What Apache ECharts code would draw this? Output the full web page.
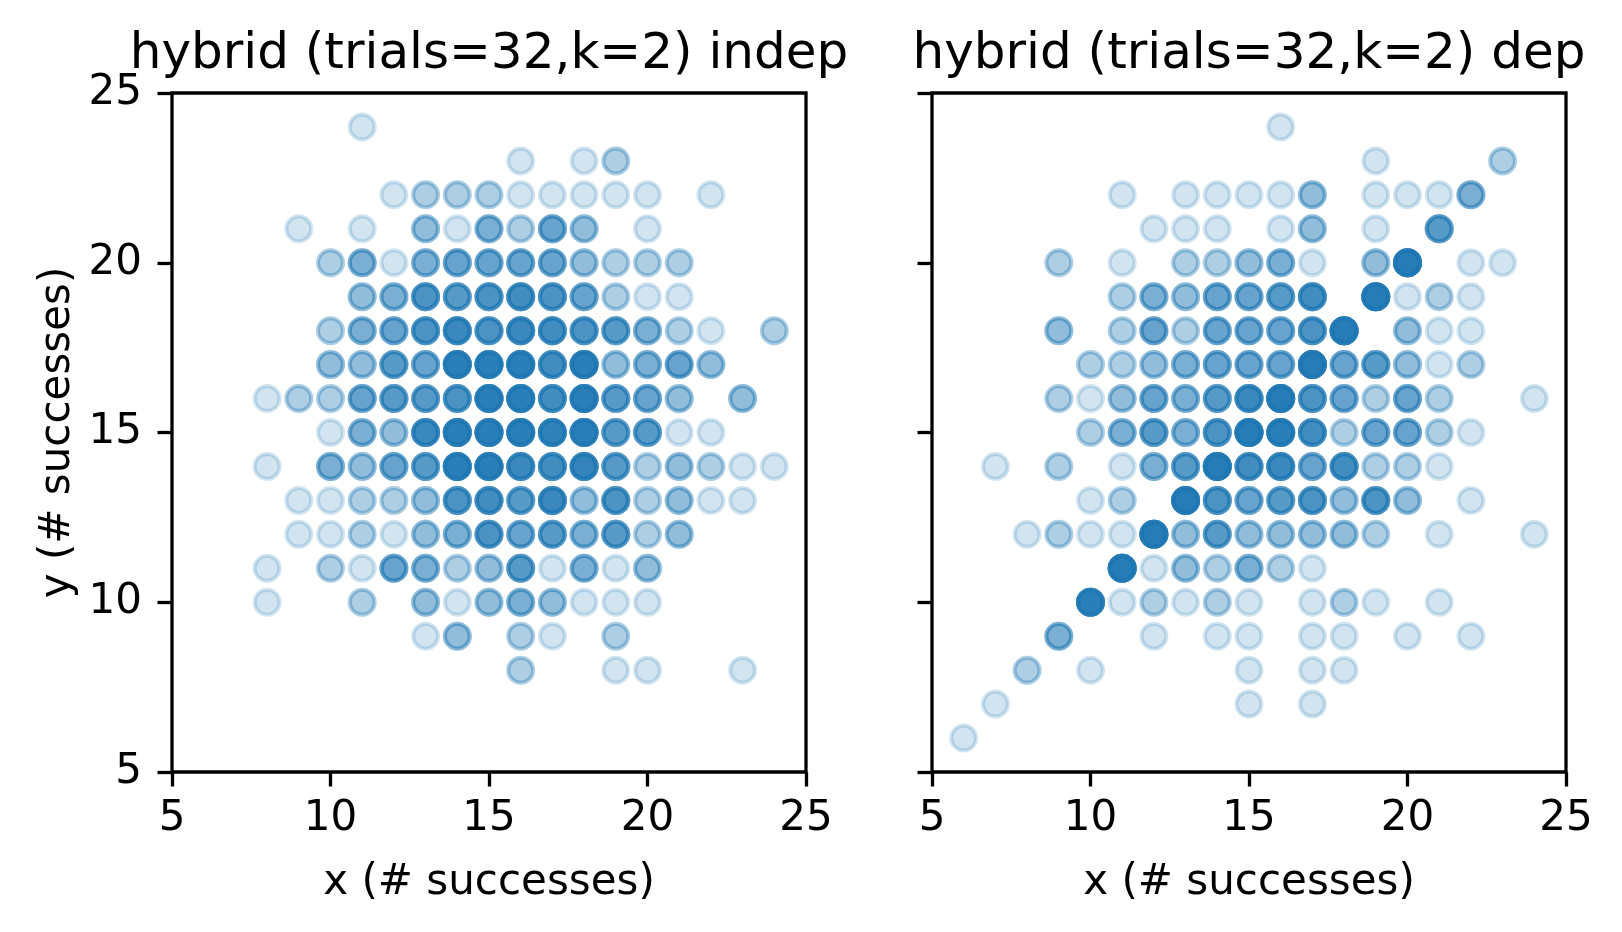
<!DOCTYPE html>
<html lang="en">
<head>
    <meta charset="UTF-8">
    <title>hybrid scatter</title>
    <script src="https://cdn.jsdelivr.net/npm/echarts@6/dist/echarts.min.js"></script>
    <style>
        html, body { margin: 0; padding: 0; background: #fff; }
        #chart { width: 1622px; height: 932px; }
    </style>
</head>
<body>
<div id="chart"></div>
<script type="text/javascript">
    // [x, y, count] per cell
    var indepCells = [
        [11, 24, 1],
        [16, 23, 1], [18, 23, 1], [19, 23, 2],
        [12, 22, 1], [13, 22, 2], [14, 22, 2], [15, 22, 2], [16, 22, 1], [17, 22, 1], [18, 22, 1], [19, 22, 1], [20, 22, 1], [22, 22, 1],
        [9, 21, 1], [11, 21, 1], [13, 21, 3], [14, 21, 1], [15, 21, 4], [16, 21, 2], [17, 21, 5], [18, 21, 3], [20, 21, 1],
        [10, 20, 2], [11, 20, 4], [12, 20, 1], [13, 20, 4], [14, 20, 5], [15, 20, 5], [16, 20, 5], [17, 20, 5], [18, 20, 3], [19, 20, 2], [20, 20, 2], [21, 20, 2],
        [11, 19, 3], [12, 19, 4], [13, 19, 7], [14, 19, 6], [15, 19, 7], [16, 19, 8], [17, 19, 7], [18, 19, 5], [19, 19, 2], [20, 19, 1], [21, 19, 1],
        [10, 18, 2], [11, 18, 4], [12, 18, 5], [13, 18, 7], [14, 18, 9], [15, 18, 7], [16, 18, 9], [17, 18, 8], [18, 18, 7], [19, 18, 6], [20, 18, 4], [21, 18, 2], [22, 18, 1], [24, 18, 2],
        [10, 17, 3], [11, 17, 3], [12, 17, 6], [13, 17, 5], [14, 17, 12], [15, 17, 12], [16, 17, 12], [17, 17, 8], [18, 17, 12], [19, 17, 3], [20, 17, 4], [21, 17, 5], [22, 17, 3],
        [8, 16, 1], [9, 16, 2], [10, 16, 2], [11, 16, 5], [12, 16, 6], [13, 16, 6], [14, 16, 7], [15, 16, 12], [16, 16, 12], [17, 16, 8], [18, 16, 12], [19, 16, 6], [20, 16, 5], [21, 16, 3], [23, 16, 3],
        [10, 15, 1], [11, 15, 4], [12, 15, 3], [13, 15, 9], [14, 15, 12], [15, 15, 12], [16, 15, 12], [17, 15, 11], [18, 15, 12], [19, 15, 6], [20, 15, 6], [21, 15, 1], [22, 15, 1],
        [8, 14, 1], [10, 14, 4], [11, 14, 3], [12, 14, 5], [13, 14, 6], [14, 14, 12], [15, 14, 12], [16, 14, 9], [17, 14, 8], [18, 14, 10], [19, 14, 6], [20, 14, 2], [21, 14, 3], [22, 14, 2], [23, 14, 1], [24, 14, 1],
        [9, 13, 1], [10, 13, 1], [11, 13, 2], [12, 13, 2], [13, 13, 3], [14, 13, 7], [15, 13, 8], [16, 13, 6], [17, 13, 9], [18, 13, 3], [19, 13, 7], [20, 13, 2], [21, 13, 3], [22, 13, 1], [23, 13, 1],
        [9, 12, 1], [10, 12, 1], [11, 12, 2], [12, 12, 1], [13, 12, 3], [14, 12, 4], [15, 12, 7], [16, 12, 5], [17, 12, 6], [18, 12, 4], [19, 12, 6], [20, 12, 2], [21, 12, 3],
        [8, 11, 1], [10, 11, 2], [11, 11, 1], [12, 11, 5], [13, 11, 4], [14, 11, 2], [15, 11, 3], [16, 11, 6], [17, 11, 1], [18, 11, 4], [19, 11, 1], [20, 11, 3],
        [8, 10, 1], [11, 10, 2], [13, 10, 3], [14, 10, 1], [15, 10, 3], [16, 10, 4], [17, 10, 3], [18, 10, 1], [19, 10, 1], [20, 10, 1],
        [13, 9, 1], [14, 9, 3], [16, 9, 2], [17, 9, 1], [19, 9, 2],
        [16, 8, 2], [19, 8, 1], [20, 8, 1], [23, 8, 1]
    ];

    var depCells = [
        [16, 24, 1],
        [19, 23, 1], [23, 23, 2],
        [11, 22, 1], [13, 22, 1], [14, 22, 1], [15, 22, 1], [16, 22, 1], [17, 22, 3], [19, 22, 1], [20, 22, 1], [21, 22, 1], [22, 22, 4],
        [12, 21, 1], [13, 21, 1], [14, 21, 1], [16, 21, 1], [17, 21, 3], [19, 21, 1], [21, 21, 6],
        [9, 20, 2], [11, 20, 1], [13, 20, 2], [14, 20, 2], [15, 20, 3], [16, 20, 4], [17, 20, 1], [19, 20, 3], [20, 20, 14], [22, 20, 1], [23, 20, 1],
        [11, 19, 2], [12, 19, 4], [13, 19, 3], [14, 19, 5], [15, 19, 5], [16, 19, 6], [17, 19, 8], [19, 19, 14], [20, 19, 1], [21, 19, 2], [22, 19, 1],
        [9, 18, 3], [11, 18, 2], [12, 18, 5], [13, 18, 2], [14, 18, 5], [15, 18, 5], [16, 18, 5], [17, 18, 7], [18, 18, 14], [20, 18, 3], [21, 18, 1], [22, 18, 1],
        [10, 17, 2], [11, 17, 2], [12, 17, 3], [13, 17, 4], [14, 17, 5], [15, 17, 5], [16, 17, 5], [17, 17, 14], [18, 17, 5], [19, 17, 6], [20, 17, 3], [21, 17, 1], [22, 17, 2],
        [9, 16, 2], [10, 16, 1], [11, 16, 3], [12, 16, 5], [13, 16, 4], [14, 16, 6], [15, 16, 9], [16, 16, 14], [17, 16, 7], [18, 16, 5], [19, 16, 2], [20, 16, 5], [21, 16, 2], [24, 16, 1],
        [10, 15, 2], [11, 15, 4], [12, 15, 6], [13, 15, 4], [14, 15, 7], [15, 15, 14], [16, 15, 12], [17, 15, 8], [18, 15, 2], [19, 15, 5], [20, 15, 5], [21, 15, 2], [22, 15, 1],
        [7, 14, 1], [9, 14, 2], [11, 14, 1], [12, 14, 4], [13, 14, 6], [14, 14, 14], [15, 14, 8], [16, 14, 9], [17, 14, 5], [18, 14, 8], [19, 14, 2], [20, 14, 2], [21, 14, 1],
        [10, 13, 1], [11, 13, 2], [13, 13, 14], [14, 13, 7], [15, 13, 5], [16, 13, 6], [17, 13, 7], [18, 13, 3], [19, 13, 7], [20, 13, 3], [22, 13, 1],
        [8, 12, 1], [9, 12, 2], [10, 12, 1], [11, 12, 1], [12, 12, 14], [13, 12, 3], [14, 12, 6], [15, 12, 3], [16, 12, 3], [17, 12, 3], [18, 12, 3], [19, 12, 2], [21, 12, 1], [24, 12, 1],
        [11, 11, 14], [12, 11, 1], [13, 11, 3], [14, 11, 2], [15, 11, 4], [16, 11, 2], [17, 11, 1],
        [10, 10, 12], [11, 10, 1], [12, 10, 2], [13, 10, 1], [14, 10, 2], [15, 10, 1], [17, 10, 1], [18, 10, 2], [19, 10, 1], [21, 10, 1],
        [9, 9, 4], [12, 9, 1], [14, 9, 1], [15, 9, 1], [17, 9, 1], [18, 9, 1], [20, 9, 1], [22, 9, 1],
        [8, 8, 2], [10, 8, 1], [15, 8, 1], [17, 8, 1], [18, 8, 1],
        [7, 7, 1], [15, 7, 1], [17, 7, 1],
        [6, 6, 1]
    ];

    var titles = ['hybrid (trials=32,k=2) indep', 'hybrid (trials=32,k=2) dep'];
    var xName = 'x (# successes)';
    var yName = 'y (# successes)';

    // every observation is one translucent marker, so repeated cells darken
    function expand(cells) {
        var pts = [];
        for (var i = 0, c; c = cells[i++];) {
            for (var k = 0; k < c[2]; k++) {
                pts.push([c[0], c[1]]);
            }
        }
        return pts;
    }

    var font = 'DejaVu Sans';
    var blue = 'rgba(31,119,180,0.2)';
    var gridTop = 93, gridH = 679, gridW = 634;
    var lefts = [172, 932];

    function xAxisOpt(i) {
        return {
            gridIndex: i, type: 'value', min: 5, max: 25, interval: 5,
            name: xName, nameLocation: 'middle', nameGap: 90,
            nameTextStyle: {fontFamily: font, fontSize: 42, color: '#000'},
            axisLine: {show: false},
            axisTick: {show: true, length: 14.5, lineStyle: {color: '#000', width: 3.3}},
            axisLabel: {margin: 26, fontFamily: font, fontSize: 42, color: '#000'},
            splitLine: {show: false}
        };
    }

    function yAxisOpt(i) {
        return {
            gridIndex: i, type: 'value', min: 5, max: 25, interval: 5,
            name: i == 0 ? yName : '', nameLocation: 'middle', nameGap: 93,
            nameTextStyle: {fontFamily: font, fontSize: 42, color: '#000'},
            axisLine: {show: false},
            axisTick: {show: true, length: 14.5, lineStyle: {color: '#000', width: 3.3}},
            axisLabel: {show: i == 0, margin: 30, fontFamily: font, fontSize: 42, color: '#000'},
            splitLine: {show: false}
        };
    }

    function seriesOpt(i, cells) {
        return {
            type: 'scatter', xAxisIndex: i, yAxisIndex: i,
            data: expand(cells),
            symbol: 'circle', symbolSize: 25,
            silent: true,
            itemStyle: {color: blue, borderColor: blue, borderWidth: 4, opacity: 1}
        };
    }

    var option = {
        animation: false,
        backgroundColor: '#fff',
        title: [0, 1].map(function (i) {
            return {
                text: titles[i], left: lefts[i] + gridW / 2, top: 30, textAlign: 'center', padding: 0,
                textStyle: {fontFamily: font, fontSize: 50, fontWeight: 'normal', color: '#000'}
            };
        }),
        grid: [0, 1].map(function (i) {
            return {
                left: lefts[i], top: gridTop, width: gridW, height: gridH,
                show: true, borderColor: '#000', borderWidth: 3.3, backgroundColor: 'transparent'
            };
        }),
        xAxis: [xAxisOpt(0), xAxisOpt(1)],
        yAxis: [yAxisOpt(0), yAxisOpt(1)],
        series: [seriesOpt(0, indepCells), seriesOpt(1, depCells)]
    };

    var myChart = echarts.init(document.getElementById('chart'));
    myChart.setOption(option);
</script>
</body>
</html>
